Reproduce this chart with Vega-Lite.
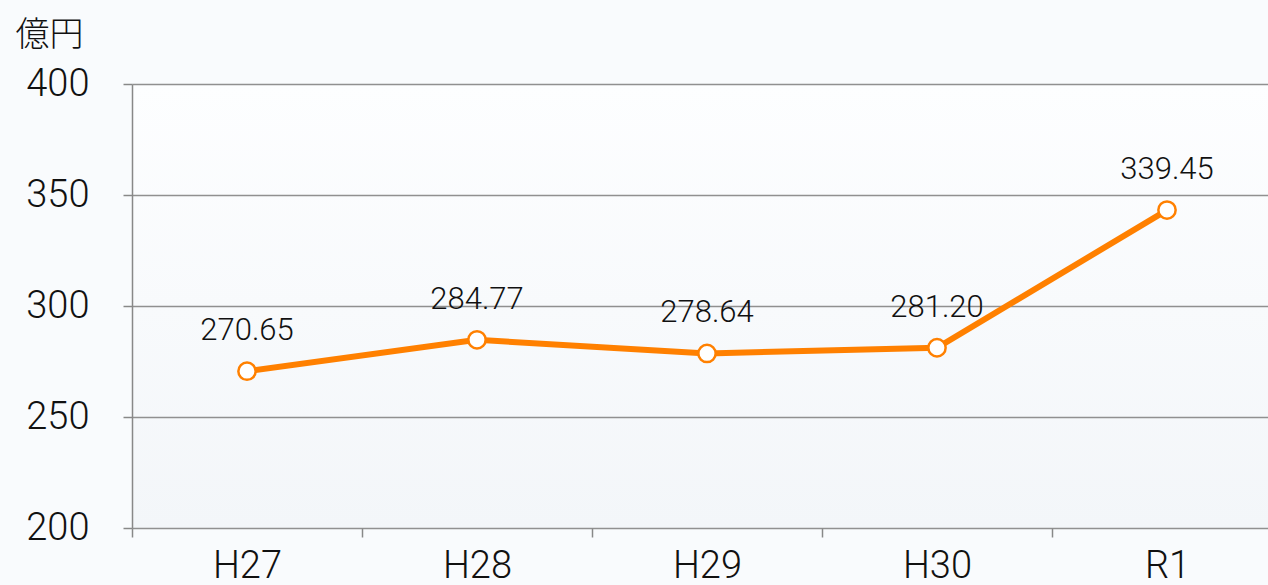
{
  "$schema": "https://vega.github.io/schema/vega-lite/v6.json",
  "width": 1136,
  "height": 444,
  "autosize": {"type": "none"},
  "padding": {"left": 132, "top": 84, "right": 0, "bottom": 57},
  "background": "#f9fbfd",
  "config": {
    "view": {
      "stroke": null,
      "fill": {"gradient": "linear", "x1": 0, "y1": 0, "x2": 0, "y2": 1,
        "stops": [{"offset": 0, "color": "#fdfeff"}, {"offset": 1, "color": "#f3f6f9"}]}
    },
    "font": "Roboto"
  },
  "data": {
    "values": [
      {"year": "H27", "value": 270.65, "label": "270.65"},
      {"year": "H28", "value": 284.77, "label": "284.77"},
      {"year": "H29", "value": 278.64, "label": "278.64"},
      {"year": "H30", "value": 281.2, "label": "281.20"},
      {"year": "R1", "value": 343.2, "label": "339.45"}
    ]
  },
  "encoding": {
    "x": {
      "field": "year", "type": "nominal", "sort": null,
      "scale": {"type": "band", "paddingInner": 0, "paddingOuter": 0, "range": [0, 1150]},
      "axis": {
        "title": null, "labelAngle": 0, "labelFontSize": 38, "labelFontWeight": 300, "labelColor": "#111",
        "labelPadding": 10, "tickBand": "extent", "tickSize": 9, "tickColor": "#888",
        "tickWidth": 1.5, "domain": false, "grid": false
      }
    },
    "y": {
      "field": "value", "type": "quantitative",
      "scale": {"domain": [200, 400], "nice": false, "zero": false},
      "axis": {
        "values": [200, 250, 300, 350, 400],
        "title": "億円", "titleAngle": 0, "titleAlign": "left", "titleBaseline": "alphabetic",
        "titleX": -117, "titleY": -39, "titleFont": "Noto Sans CJK JP", "titleFontSize": 34,
        "titleFontWeight": 300, "titleColor": "#111",
        "labelFontSize": 38, "labelFontWeight": 300, "labelColor": "#111", "labelPadding": 34,
        "tickSize": 9, "tickColor": "#888", "tickWidth": 1.5,
        "domainColor": "#888", "domainWidth": 1.5,
        "grid": true, "gridColor": "#909090", "gridWidth": 1.5
      }
    }
  },
  "layer": [
    {"mark": {"type": "line", "color": "#ff8000", "strokeWidth": 6}},
    {"mark": {"type": "point", "shape": "circle", "filled": true, "fill": "white", "stroke": "#ff8000", "strokeWidth": 2.5, "size": 300, "opacity": 1}},
    {"mark": {"type": "text", "dy": -31, "baseline": "alphabetic", "fontSize": 31, "fontWeight": 300, "color": "#111"},
     "encoding": {"text": {"field": "label"}}}
  ]
}
